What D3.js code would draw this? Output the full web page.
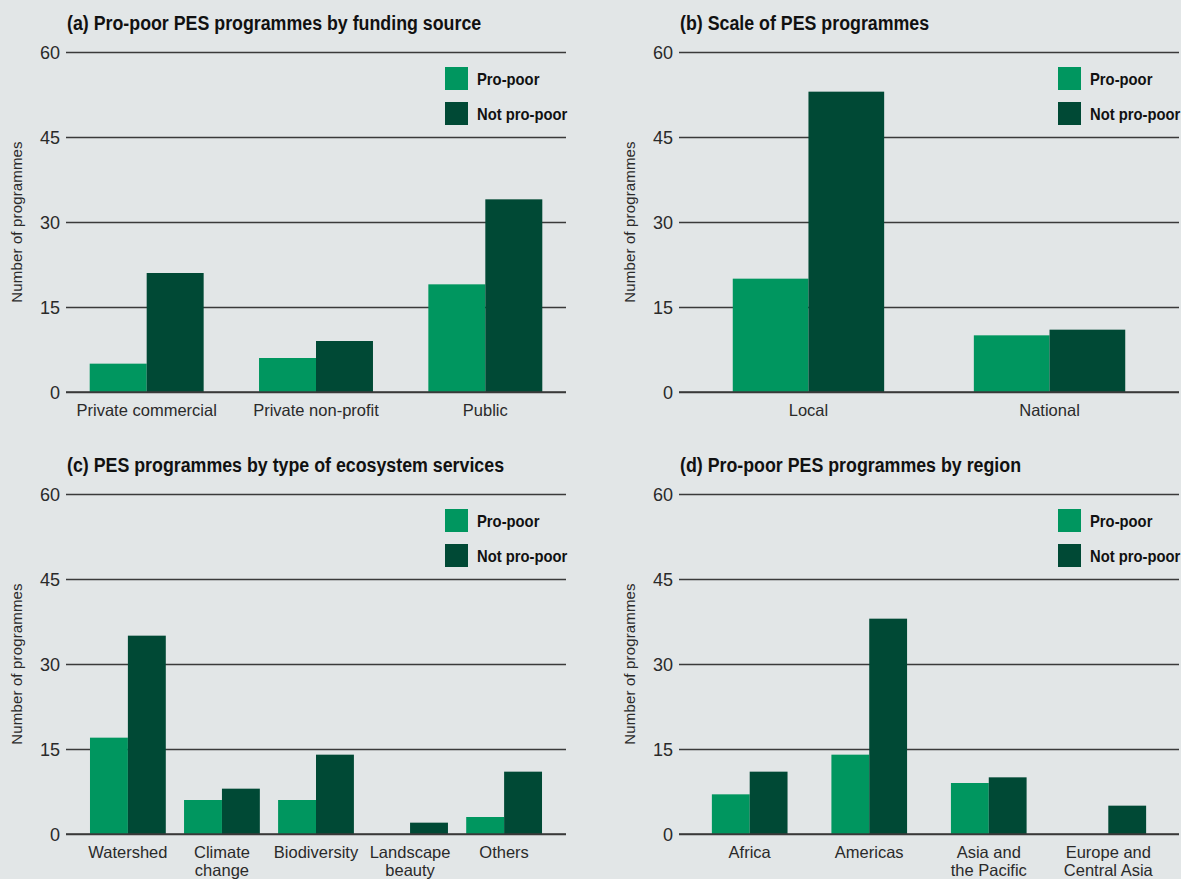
<!DOCTYPE html>
<html><head><meta charset="utf-8">
<script src="https://cdn.jsdelivr.net/npm/d3@7"></script>
<style>
html,body{margin:0;padding:0;background:#e2e6e7;}
svg{display:block;}
</style></head>
<body>
<svg id="chart" width="1181" height="879"></svg>
<script>
// ---------- data ----------
const seriesNames = ["Pro-poor", "Not pro-poor"];
const yTicks = [0, 15, 30, 45, 60];

const titleA = "(a) Pro-poor PES programmes by funding source";
const catsA = [["Private commercial"], ["Private non-profit"], ["Public"]];
const proPoorA = [5, 6, 19];
const notProPoorA = [21, 9, 34];

const titleB = "(b) Scale of PES programmes";
const catsB = [["Local"], ["National"]];
const proPoorB = [20, 10];
const notProPoorB = [53, 11];

const titleC = "(c) PES programmes by type of ecosystem services";
const catsC = [["Watershed"], ["Climate", "change"], ["Biodiversity"], ["Landscape", "beauty"], ["Others"]];
const proPoorC = [17, 6, 6, 0, 3];
const notProPoorC = [35, 8, 14, 2, 11];

const titleD = "(d) Pro-poor PES programmes by region";
const catsD = [["Africa"], ["Americas"], ["Asia and", "the Pacific"], ["Europe and", "Central Asia"]];
const proPoorD = [7, 14, 9, 0];
const notProPoorD = [11, 38, 10, 5];

const yLabel = "Number of programmes";

// ---------- style ----------
const colors = ["#00965f", "#004935"];
const font = "'Liberation Sans',Arial,sans-serif";
const textCol = "#2a2a2a";
const boldSquash = 0.87;   // emulate condensed bold face
const titleSquash = 0.89;

const svg = d3.select("#chart");
svg.append("rect").attr("width", 1181).attr("height", 879).attr("fill", "#e2e6e7");

function squashText(parent, x, y, k, txt) {
  return parent.append("text")
    .attr("transform", `translate(${x},${y}) scale(${k},1)`)
    .attr("x", 0).attr("y", 0).text(txt);
}

const panels = [
  {title: titleA, cats: catsA, a: proPoorA, b: notProPoorA, x0: 66, x1: 566, top: 52, bottom: 392, pi: 0.327, po: 0.14, ylx: 17},
  {title: titleB, cats: catsB, a: proPoorB, b: notProPoorB, x0: 679, x1: 1179, top: 52, bottom: 392, pi: 0.372, po: 0.223, ylx: 630},
  {title: titleC, cats: catsC, a: proPoorC, b: notProPoorC, x0: 66, x1: 566, top: 494, bottom: 834, pi: 0.194, po: 0.255, ylx: 17},
  {title: titleD, cats: catsD, a: proPoorD, b: notProPoorD, x0: 679, x1: 1179, top: 494, bottom: 834, pi: 0.367, po: 0.275, ylx: 630}
];

panels.forEach(p => {
  const g = svg.append("g");
  const keys = p.cats.map(c => c.join(" "));
  const x = d3.scaleBand().domain(keys).range([p.x0, p.x1]).paddingInner(p.pi).paddingOuter(p.po);
  const xs = d3.scaleBand().domain(seriesNames).range([0, x.bandwidth()]);
  const y = d3.scaleLinear().domain([0, 60]).range([p.bottom, p.top]);

  // title
  squashText(g, p.x0 + 1, p.top - 22, titleSquash, p.title)
    .attr("font-family", font).attr("font-weight", "bold").attr("font-size", 20)
    .attr("fill", "#111");

  // y axis (gridlines + labels)
  const yAxis = d3.axisLeft(y).tickValues(yTicks).tickSize(-(p.x1 - p.x0)).tickPadding(6);
  const ya = g.append("g").attr("transform", `translate(${p.x0},0)`).call(yAxis);
  ya.select(".domain").remove();
  ya.selectAll(".tick line").attr("stroke", "#3a3a3a").attr("stroke-width", 1.3);
  ya.selectAll(".tick text").attr("font-family", font).attr("font-size", 18)
    .attr("fill", textCol).attr("dy", "0.36em");

  // y label
  g.append("text")
    .attr("transform", `translate(${p.ylx},${(p.top + p.bottom) / 2}) rotate(-90)`)
    .attr("text-anchor", "middle").attr("dy", "0.35em")
    .attr("font-family", font).attr("font-size", 15).attr("letter-spacing", 0.15)
    .attr("fill", textCol).text(yLabel);

  // bars
  keys.forEach((k, i) => {
    [p.a[i], p.b[i]].forEach((v, j) => {
      if (v <= 0) return;
      g.append("rect")
        .attr("x", x(k) + xs(seriesNames[j]))
        .attr("y", y(v))
        .attr("width", xs.bandwidth())
        .attr("height", y(0) - y(v))
        .attr("fill", colors[j]);
    });
  });

  // baseline redraw on top
  g.append("line").attr("x1", p.x0).attr("x2", p.x1).attr("y1", y(0)).attr("y2", y(0))
    .attr("stroke", "#3a3a3a").attr("stroke-width", 1.3);

  // x labels
  p.cats.forEach((c, i) => {
    const t = g.append("text").attr("text-anchor", "middle")
      .attr("font-family", font).attr("font-size", 16.5).attr("fill", textCol);
    c.forEach((line, li) => {
      t.append("tspan").attr("x", x(keys[i]) + x.bandwidth() / 2)
        .attr("y", p.bottom + 24 + li * 18).text(line);
    });
  });

  // legend
  seriesNames.forEach((s, j) => {
    const ly = p.top + 15 + j * 35;
    g.append("rect").attr("x", p.x1 - 121).attr("y", ly).attr("width", 23).attr("height", 23)
      .attr("fill", colors[j]);
    squashText(g, p.x1 - 89, ly + 18, boldSquash, s)
      .attr("font-family", font).attr("font-weight", "bold").attr("font-size", 17)
      .attr("fill", "#111");
  });
});
</script>
</body></html>
